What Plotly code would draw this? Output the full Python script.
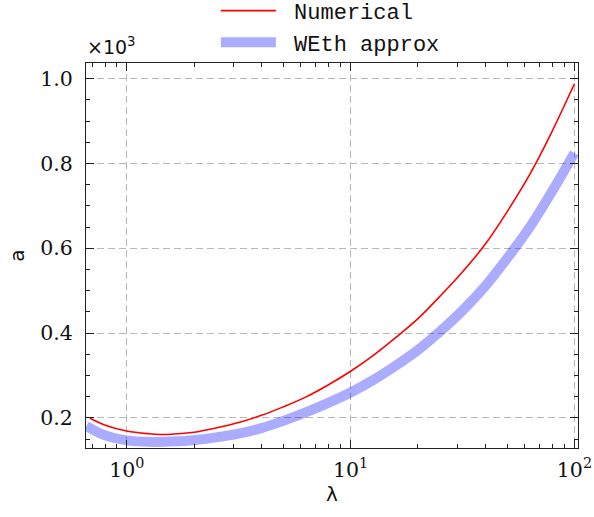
import plotly.graph_objects as go

# Data (a in units of 10^3)
lam_num = [0.686, 0.79, 1.0, 1.26, 1.41, 1.58, 2.0, 2.5, 3.16, 4.0, 5.0, 6.3, 7.9, 10,
           12.6, 15.8, 20, 25, 31.6, 40, 50, 63, 79, 100]
a_num = [0.199, 0.184, 0.169, 0.1625, 0.161, 0.1615, 0.166, 0.176, 0.189, 0.206, 0.226, 0.249, 0.277, 0.310,
         0.347, 0.388, 0.434, 0.486, 0.544, 0.610, 0.686, 0.773, 0.873, 0.988]

lam_weth = [0.66, 0.79, 1.0, 1.26, 1.58, 2.0, 2.5, 3.16, 4.0, 5.0, 6.3, 7.9, 10,
            12.6, 15.8, 20, 25, 31.6, 40, 50, 63, 79, 100]
a_weth = [0.181, 0.160, 0.147, 0.1435, 0.1445, 0.1475, 0.154, 0.163, 0.176, 0.193, 0.213, 0.235, 0.260,
          0.289, 0.322, 0.360, 0.403, 0.453, 0.511, 0.576, 0.649, 0.732, 0.825]

series_names = ["\u00a0Numerical", "\u00a0WEth approx"]

x_ticks = [1, 10, 100]
x_ticktext = ["10<sup>0</sup>", "10<sup>1</sup>", "10<sup>2</sup>"]
y_ticks = [0.2, 0.4, 0.6, 0.8, 1.0]
y_ticktext = ["0.2", "0.4", "0.6", "0.8", "1.0"]

minor_x = [m * d for d in (0.1, 1, 10, 100) for m in range(2, 10)]
minor_y = [0.15, 0.25, 0.3, 0.35, 0.45, 0.5, 0.55, 0.65, 0.7, 0.75, 0.85, 0.9, 0.95]

fig = go.Figure()
fig.add_trace(go.Scatter(x=lam_num, y=a_num, mode="lines", name=series_names[0],
                         line=dict(color="#ff0000", width=1.6, shape="spline")))
fig.add_trace(go.Scatter(x=lam_weth, y=a_weth, mode="lines", name=series_names[1],
                         line=dict(color="rgba(0,0,255,0.33)", width=10, shape="spline")))

axis_common = dict(
    showline=True, linecolor="#222", linewidth=1.3, mirror="allticks",
    ticks="inside", ticklen=8, tickwidth=1.1, tickcolor="#222",
    showgrid=True, gridcolor="#b8b8b8", griddash="7px,4px", gridwidth=1.1,
    zeroline=False,
    tickfont=dict(family="DejaVu Serif", size=20.5, color="#111"),
)

fig.update_xaxes(type="log", range=[-0.182, 2.016], tickmode="array",
                 tickvals=x_ticks, ticktext=x_ticktext, ticklabelstandoff=3,
                 minor=dict(tickmode="array", tickvals=minor_x, ticks="inside",
                            ticklen=4, tickcolor="#222", showgrid=False),
                 title=dict(text="λ", font=dict(family="DejaVu Sans", size=20, color="#111"), standoff=3),
                 **axis_common)
fig.update_yaxes(range=[0.129, 1.037], tickmode="array", tickvals=y_ticks,
                 ticktext=y_ticktext, ticklabelstandoff=8,
                 minor=dict(tickmode="array", tickvals=minor_y, ticks="inside",
                            ticklen=4, tickcolor="#222", showgrid=False),
                 title=dict(text="a", font=dict(family="DejaVu Sans", size=20, color="#111"), standoff=10),
                 **axis_common)

fig.add_annotation(text="×10<sup>3</sup>", xref="paper", yref="paper", x=-0.002, y=1.008,
                   xanchor="left", yanchor="bottom", showarrow=False,
                   font=dict(family="DejaVu Sans", size=19, color="#111"))

fig.update_layout(
    width=594, height=517,
    margin=dict(l=86, r=16, t=63, b=69, autoexpand=False),
    paper_bgcolor="white", plot_bgcolor="white",
    legend=dict(x=0.264, y=1.19, xanchor="left", yanchor="top",
                font=dict(family="Liberation Mono", size=22, color="#111"),
                bgcolor="rgba(0,0,0,0)", itemwidth=55, tracegroupgap=0),
    showlegend=True,
)

fig.write_html("out.html")
